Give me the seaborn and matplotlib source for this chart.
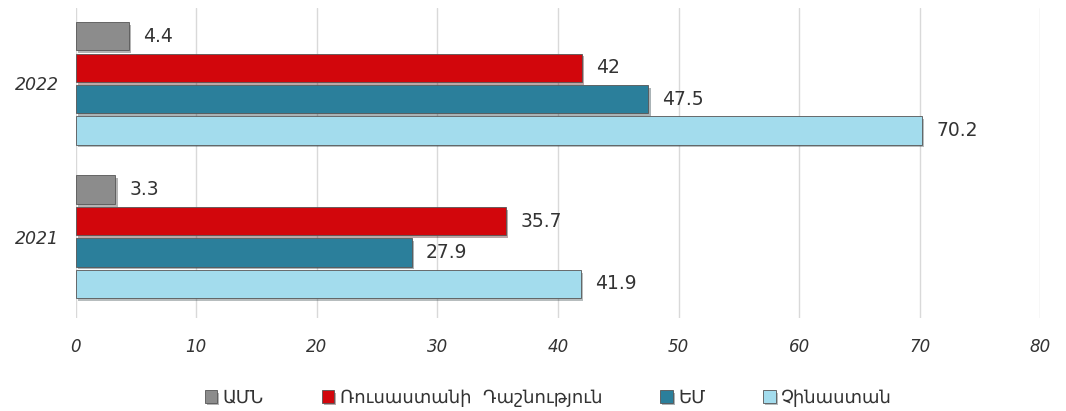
import pandas as pd
import matplotlib.pyplot as plt
import matplotlib.patheffects as pe
import seaborn as sns

sns.set_style("white")
plt.rcParams['font.family'] = ['DejaVu Sans']

# Data
years = ["2022", "2021"]
partners = ["ԱՄՆ", "Ռուսաստանի  Դաշնություն", "ԵՄ", "Չինաստան"]
values_2022 = [4.4, 42, 47.5, 70.2]
values_2021 = [3.3, 35.7, 27.9, 41.9]
colors = ["#8c8c8c", "#d2060c", "#2b7f9b", "#a3dced"]

rows = []
for p, v in zip(partners, values_2022):
    rows.append({"Year": "2022", "Partner": p, "Value": v})
for p, v in zip(partners, values_2021):
    rows.append({"Year": "2021", "Partner": p, "Value": v})
df = pd.DataFrame(rows)

fig = plt.figure(figsize=(10.66, 4.11), dpi=100)
ax = fig.add_axes([0.071, 0.226, 0.905, 0.754])

sns.barplot(data=df, y="Year", x="Value", hue="Partner", order=years,
            hue_order=partners, palette=colors, orient="h",
            width=0.82, gap=0.1, ax=ax, legend=True, saturation=1)

for patch in ax.patches:
    patch.set_edgecolor("#555555")
    patch.set_linewidth(0.6)
    patch.set_path_effects([pe.SimplePatchShadow(offset=(1.5, -2), alpha=0.35),
                            pe.Normal()])

for c in ax.containers:
    ax.bar_label(c, labels=[f"{v:g}" for v in c.datavalues], padding=10,
                 fontsize=13.5, color="#333333")

ax.set_xlim(0, 80)
ax.set_ylim(1.53, -0.49)
ax.set_xticks(range(0, 81, 10))
ax.xaxis.grid(True, color="#d9d9d9", linewidth=1)
ax.set_axisbelow(True)
for s in ax.spines.values():
    s.set_visible(False)
ax.tick_params(axis="x", length=0, pad=14, labelsize=12, labelcolor="#333333")
ax.tick_params(axis="y", length=0, pad=12, labelsize=12.5, labelcolor="#333333")
for t in ax.get_xticklabels() + ax.get_yticklabels():
    t.set_fontstyle("italic")
ax.set_xlabel("")
ax.set_ylabel("")

handles, labels = ax.get_legend_handles_labels()
ax.legend(handles, labels, loc="upper center", bbox_to_anchor=(0.49, -0.175),
          ncol=4, frameon=False, fontsize=13, handlelength=0.7,
          handleheight=0.7, handletextpad=0.3, columnspacing=3.2,
          labelcolor="#333333")

fig.savefig("out.png", dpi=100)
